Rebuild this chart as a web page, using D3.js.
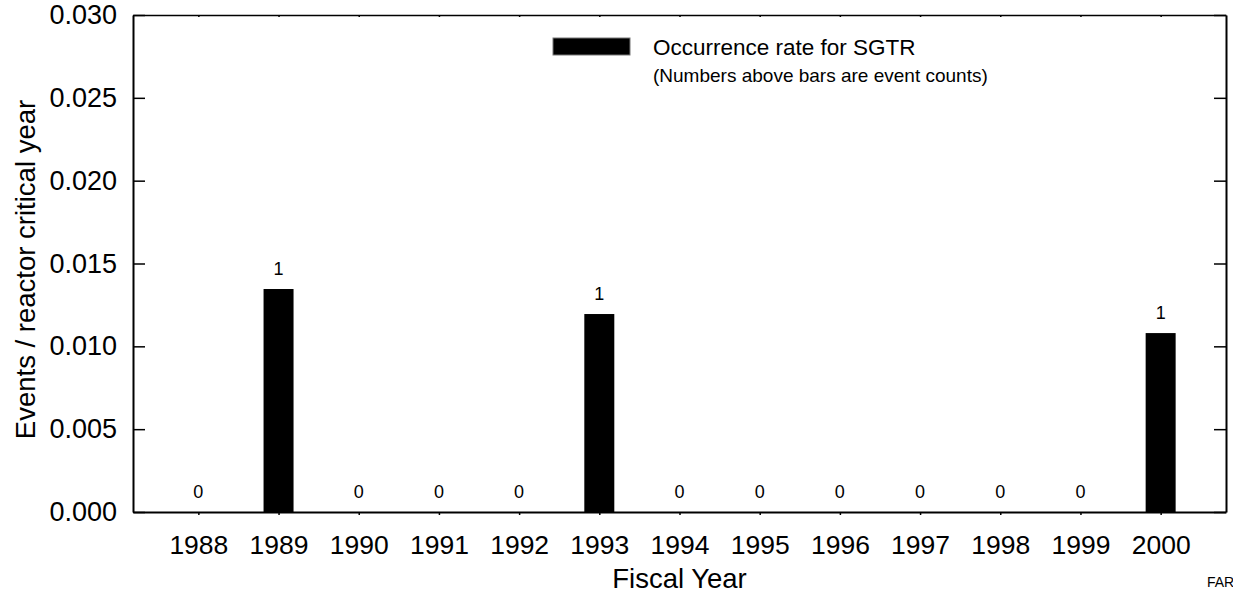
<!DOCTYPE html>
<html>
<head>
<meta charset="utf-8">
<script src="https://cdn.jsdelivr.net/npm/d3@7"></script>
<style>
	body { margin: 0; background: #fff; overflow: hidden; }
	svg { display: block; }
	text { font-family: "Liberation Sans", Arial, sans-serif; fill: #000; }
	.axis path, .axis line { stroke: #000; }
</style>
</head>
<body>
<svg id="chart" width="1233" height="599"></svg>
<script>
// fiscal years and SGTR events
const years = ['1988', '1989', '1990', '1991', '1992', '1993', '1994', '1995', '1996', '1997', '1998', '1999', '2000']
const eventCounts = [0, 1, 0, 0, 0, 1, 0, 0, 0, 0, 0, 0, 1]
const rates = [0, 0.01346, 0, 0, 0, 0.01195, 0, 0, 0, 0, 0, 0, 0.0108]
const yTicks = [0, 0.005, 0.010, 0.015, 0.020, 0.025, 0.030]

const width = 1233, height = 599
const padding = { top: 15, bottom: 87, left: 133, right: 7 }
const font = 'Liberation Sans, Arial, sans-serif'

const svg = d3.select('#chart')

const scaleX = d3.scalePoint()
	.domain(years)
	.range([padding.left, width - padding.right])
	.padding(0.815)
const scaleY = d3.scaleLinear()
	.domain([0, 0.03])
	.range([height - padding.bottom, padding.top])

const barW = scaleX.step() * 0.374
const data = years.map((y, i) => ({ year: y, rate: rates[i], count: eventCounts[i] }))

// bars
svg.append('g')
	.selectAll('rect')
	.data(data.filter(d => d.rate > 0))
	.join('rect')
	.attr('x', d => scaleX(d.year) - barW / 2)
	.attr('y', d => scaleY(d.rate))
	.attr('width', barW)
	.attr('height', d => scaleY(0) - scaleY(d.rate))
	.attr('fill', '#000')

// counts above bars
svg.append('g')
	.selectAll('text')
	.data(data)
	.join('text')
	.attr('x', d => scaleX(d.year))
	.attr('y', d => scaleY(d.rate) - 14)
	.attr('text-anchor', 'middle')
	.attr('font-family', font)
	.attr('font-size', 18)
	.text(d => d.count)

// left axis, ticks pointing in
const yAxis = svg.append('g')
	.attr('class', 'axis')
	.attr('transform', `translate(${padding.left},0)`)
	.call(d3.axisLeft(scaleY).tickValues(yTicks).tickSize(-12).tickSizeOuter(0).tickPadding(16).tickFormat(d3.format('.3f')))
yAxis.select('.domain').attr('stroke-width', 2)
yAxis.selectAll('line').attr('stroke-width', 1.5)
yAxis.selectAll('text').attr('font-size', 27).attr('fill', '#000').attr('font-family', font)

// right axis, no labels
const yAxisR = svg.append('g')
	.attr('class', 'axis')
	.attr('transform', `translate(${width - padding.right},0)`)
	.call(d3.axisRight(scaleY).tickValues(yTicks).tickSize(-12).tickSizeOuter(0).tickFormat(''))
yAxisR.select('.domain').attr('stroke-width', 2)
yAxisR.selectAll('line').attr('stroke-width', 1.5)

// bottom axis
const xAxis = svg.append('g')
	.attr('class', 'axis')
	.attr('transform', `translate(0,${height - padding.bottom})`)
	.call(d3.axisBottom(scaleX).tickSize(3).tickSizeOuter(0).tickPadding(20))
xAxis.select('.domain').attr('stroke-width', 2)
xAxis.selectAll('line').attr('stroke-width', 1.5)
xAxis.selectAll('text').attr('font-size', 26.5).attr('fill', '#000').attr('font-family', font)

// top axis
const xAxisT = svg.append('g')
	.attr('class', 'axis')
	.attr('transform', `translate(0,${padding.top})`)
	.call(d3.axisTop(scaleX).tickSize(-2).tickSizeOuter(0).tickFormat(''))
xAxisT.select('.domain').attr('stroke-width', 1.5)
xAxisT.selectAll('line').attr('stroke-width', 1.5)

// axis titles
svg.append('text')
	.attr('x', (padding.left + width - padding.right) / 2)
	.attr('y', 588)
	.attr('text-anchor', 'middle')
	.attr('font-family', font)
	.attr('font-size', 27.5)
	.text('Fiscal Year')

svg.append('text')
	.attr('transform', `translate(35,${(padding.top + height - padding.bottom) / 2 + 6}) rotate(-90)`)
	.attr('text-anchor', 'middle')
	.attr('font-family', font)
	.attr('font-size', 27.5)
	.text('Events / reactor critical year')

// legend
const legend = svg.append('g')
legend.append('rect')
	.attr('x', 553).attr('y', 38)
	.attr('width', 77).attr('height', 17)
	.attr('fill', '#000')
	.attr('stroke', '#777')
	.attr('stroke-width', 1)
legend.append('text')
	.attr('x', 653).attr('y', 55)
	.attr('font-family', font)
	.attr('font-size', 22.5)
	.text('Occurrence rate for SGTR')
legend.append('text')
	.attr('x', 653).attr('y', 82)
	.attr('font-family', font)
	.attr('font-size', 19)
	.text('(Numbers above bars are event counts)')

svg.append('text')
	.attr('x', 1207).attr('y', 587)
	.attr('font-family', font)
	.attr('font-size', 14)
	.text('FAR')
</script>
</body>
</html>
